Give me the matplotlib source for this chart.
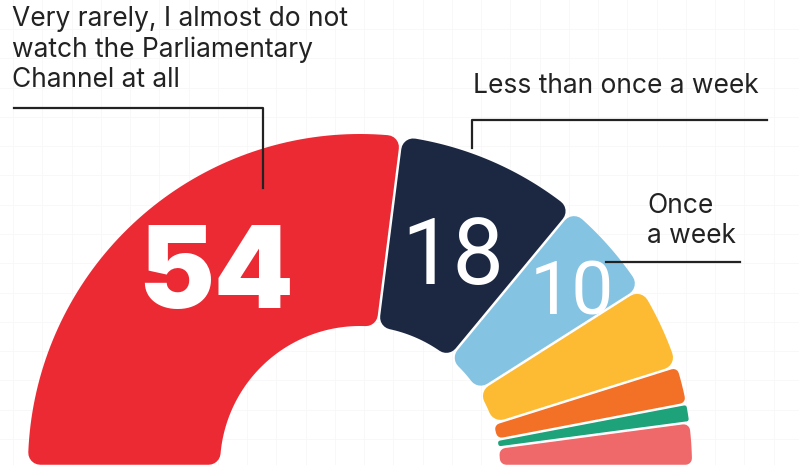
import numpy as np
import matplotlib
matplotlib.use("Agg")
import matplotlib.pyplot as plt
from matplotlib.patches import Polygon

# ------------------------------------------------------------
# data
# ------------------------------------------------------------
values = [54, 18, 10, 8.3, 3.7, 1.8, 4.2]
colors = ["#EC2A34", "#1C2842", "#85C3E3", "#FDBB33", "#F37027", "#1DA27A", "#EF686A"]
shown = [0, 1, 2]                 # segments with the number written inside
num_text = ["54", "18", "10"]
num_family = ["Inter", "Roboto", "Roboto"]
num_weight = ["black", "normal", "normal"]
num_size = [82, 66, 54]
num_radius = [246, 236, 278]
num_shift = [-5.6, 0.2, -1.1]     # degrees

label_rare = "Very rarely, I almost do not\nwatch the Parliamentary\nChannel at all"
label_less = "Less than once a week"
label_once = "Once\na week"

# ------------------------------------------------------------
# layout (pixel units, y pointing down)
# ------------------------------------------------------------
W, H, DPI = 799, 465, 100
cx, cy = 360, 466
r_out, r_in = 332, 140
gap = 2.5
corner = 12.0
ink = "#222222"

fig = plt.figure(figsize=(W / DPI, H / DPI), dpi=DPI)
ax = fig.add_axes([0, 0, 1, 1])
ax.set_xlim(0, W)
ax.set_ylim(H, 0)
ax.axis("off")

# faint background grid
step = 29.25
for gx in np.arange(step * 0.45, W, step):
    ax.axvline(gx, color="#f7f7f7", lw=0.6, zorder=0)
for gy in np.arange(step, H, step):
    ax.axhline(gy, color="#f7f7f7", lw=0.6, zorder=0)


def pt(r, a):
    return cx + r * np.cos(np.radians(a)), cy - r * np.sin(np.radians(a))


total = float(sum(values))
angles = 180 - np.concatenate([[0], np.cumsum(values)]) / total * 180

for i, v in enumerate(values):
    a1, a2 = angles[i], angles[i + 1]
    span = np.radians(a1 - a2)
    # corner radius limited by how thin the slice is at the inner edge
    c = min(corner, 0.8 * (r_in * np.sin(span / 2) - gap / 2))
    c = max(c, 0.3)
    d = gap / 2 + c
    ro, ri = r_out - c, r_in + c
    do = np.degrees(np.arcsin(d / ro))
    di = np.degrees(np.arcsin(d / ri))
    outer = np.linspace(a1 - do, a2 + do, 80)
    inner = np.linspace(a2 + di, a1 - di, 60)
    xy = [pt(ro, a) for a in outer] + [pt(ri, a) for a in inner]
    poly = Polygon(xy, closed=True, facecolor=colors[i], edgecolor=colors[i],
                   lw=2 * c * 72 / DPI, joinstyle="round", zorder=2)
    ax.add_patch(poly)

# numbers inside the big slices
for k, i in enumerate(shown):
    mid = (angles[i] + angles[i + 1]) / 2 + num_shift[k]
    x, y = pt(num_radius[k], mid)
    ax.text(x, y, num_text[k], color="white", fontsize=num_size[k],
            fontweight=num_weight[k], family=num_family[k], ha="center",
            va="center_baseline", zorder=3)

# labels and leader lines
lab = dict(color=ink, fontsize=19, family="Inter", linespacing=1.2, zorder=3)
ax.text(12, 6, label_rare, ha="left", va="top", **lab)
ax.plot([14, 263, 263], [108, 108, 188], color=ink, lw=1.6, zorder=4)

ax.text(473, 73, label_less, ha="left", va="top", **lab)
ax.plot([767, 472, 472], [120, 120, 148], color=ink, lw=1.6, zorder=4)

ax.text(647, 193, label_once, ha="left", va="top", **lab)
ax.plot([606, 740], [262, 262], color=ink, lw=1.6, zorder=4)

fig.savefig("out.png", dpi=DPI, facecolor="white")
